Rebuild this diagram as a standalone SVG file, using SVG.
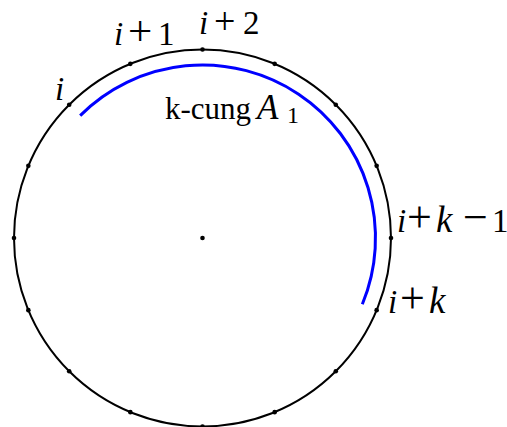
<svg xmlns="http://www.w3.org/2000/svg" width="507" height="427" viewBox="0 0 507 427">
<style>
text{font-family:"Liberation Serif","Times New Roman",serif;fill:#000}
.dot{fill:#000}
</style>
<rect width="507" height="427" fill="#fff"/>
<g id="circle">
<circle cx="202.5" cy="238" r="188.5" fill="none" stroke="#000" stroke-width="2"/>
</g>
<g id="arc">
<path d="M80.17,115.67 A173,173 0 0 1 362.33,304.2" fill="none" stroke="#0000ff" stroke-width="3"/>
</g>
<g id="dots">
<circle class="dot" cx="202.5" cy="238" r="2.3"/>
<circle class="dot" cx="202.5" cy="49.5" r="2.3"/>
<circle class="dot" cx="274.64" cy="63.85" r="2.3"/>
<circle class="dot" cx="335.79" cy="104.71" r="2.3"/>
<circle class="dot" cx="376.65" cy="165.86" r="2.3"/>
<circle class="dot" cx="391" cy="238" r="2.3"/>
<circle class="dot" cx="376.65" cy="310.14" r="2.3"/>
<circle class="dot" cx="335.79" cy="371.29" r="2.3"/>
<circle class="dot" cx="274.64" cy="412.15" r="2.3"/>
<circle class="dot" cx="202.5" cy="426.5" r="2.3"/>
<circle class="dot" cx="130.36" cy="412.15" r="2.3"/>
<circle class="dot" cx="69.21" cy="371.29" r="2.3"/>
<circle class="dot" cx="28.35" cy="310.14" r="2.3"/>
<circle class="dot" cx="14" cy="238" r="2.3"/>
<circle class="dot" cx="28.35" cy="165.86" r="2.3"/>
<circle class="dot" cx="69.21" cy="104.71" r="2.3"/>
<circle class="dot" cx="130.36" cy="63.85" r="2.3"/>
</g>
<g id="labels">
<text x="55" y="100" font-size="33" font-style="italic">i</text>
<text y="45" font-size="33"><tspan x="114" font-style="italic">i</tspan><tspan x="128" font-size="43">+</tspan><tspan x="158">1</tspan></text>
<text y="34" font-size="33"><tspan x="199" font-style="italic">i</tspan><tspan x="214" font-size="38">+</tspan><tspan x="243">2</tspan></text>
<text y="119" font-size="31"><tspan x="165">k-cung</tspan><tspan x="257" font-size="35" font-style="italic">A</tspan><tspan x="287" dy="4" font-size="24">1</tspan></text>
<text y="232" font-size="33"><tspan x="397" font-style="italic">i</tspan><tspan x="407" font-size="44">+</tspan><tspan x="436" font-size="37" font-style="italic">k</tspan><tspan x="463" font-size="44">−</tspan><tspan x="492">1</tspan></text>
<text y="313" font-size="33"><tspan x="388" font-style="italic">i</tspan><tspan x="400" font-size="44">+</tspan><tspan x="429" font-size="37" font-style="italic">k</tspan></text>
</g>
</svg>
